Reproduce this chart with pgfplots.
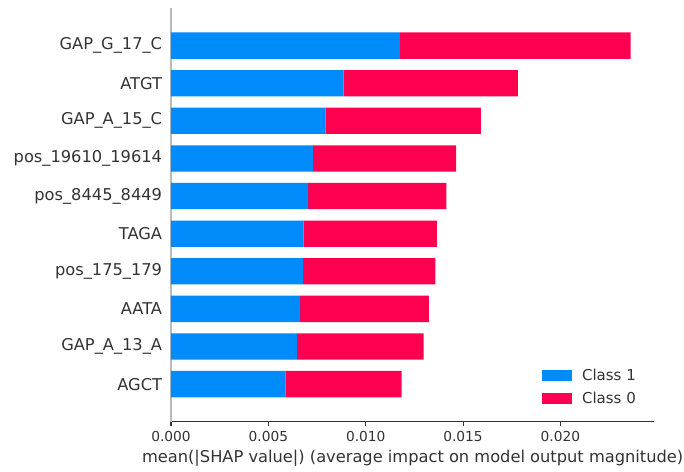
\documentclass[border=0pt]{standalone}
\usepackage{pgfplots}
\pgfplotsset{compat=1.18}
\usepackage{fontspec}
\setmainfont{DejaVu Sans}
\definecolor{shapblue}{RGB}{0,139,251}
\definecolor{shapred}{RGB}{255,0,81}
\definecolor{c333}{HTML}{333333}
\definecolor{c999}{HTML}{BBBBBB}
\begin{document}
\begin{tikzpicture}
\begin{axis}[
  name=ax,
  scale only axis,
  width=348pt, height=297.9pt,
  xbar stacked,
  bar width=0.7,
  xmin=0, xmax=0.02482,
  ymin=-1, ymax=10,
  separate axis lines,
  axis x line*=bottom,
  axis y line*=left,
  x axis line style={-, color=c333, line width=0.8pt},
  y axis line style={-, color=c999, line width=0.8pt},
  tick align=outside,
  xtick={0,0.005,0.010,0.015,0.020},
  scaled x ticks=false,
  /pgf/number format/fixed,
  /pgf/number format/fixed zerofill,
  /pgf/number format/precision=3,
  /pgf/number format/assume math mode=true,
  xticklabel style={font=\fontsize{9.9pt}{12pt}\selectfont, text=c333},
  x tick style={color=c333, line width=0.8pt},
  major tick length=3.2pt,
  ytick={0,1,2,3,4,5,6,7,8,9},
  yticklabels={AGCT,GAP\_A\_13\_A,AATA,pos\_175\_179,TAGA,pos\_8445\_8449,pos\_19610\_19614,GAP\_A\_15\_C,ATGT,GAP\_G\_17\_C},
  y tick style={draw=none},
  yticklabel style={font=\fontsize{11.7pt}{14pt}\selectfont, text=c333, inner sep=0pt, xshift=-3pt},
  xlabel={mean(|SHAP value|) (average impact on model output magnitude)},
  xlabel style={font=\fontsize{11.7pt}{14pt}\selectfont, text=c333, yshift=1pt},
  legend style={draw=none, fill=none, at={(0.758,0.142)}, anchor=north west,
    font=\fontsize{10.8pt}{13pt}\selectfont, text=c333, row sep=3pt},
  legend cell align=left,
  legend image code/.code={\fill[#1] (0pt,-3.8pt) rectangle (22pt,3.8pt); \path (27pt,0pt);},
]
\addplot[fill=shapblue, draw=none] coordinates {
(0.01176,9) (0.00887,8) (0.00794,7) (0.00729,6) (0.00705,5)
(0.00681,4) (0.00678,3) (0.00663,2) (0.00647,1) (0.00589,0)};
\addlegendentry{Class 1}
\addplot[fill=shapred, draw=none] coordinates {
(0.01185,9) (0.00895,8) (0.00798,7) (0.00736,6) (0.00709,5)
(0.00685,4) (0.00680,3) (0.00662,2) (0.00651,1) (0.00596,0)};
\addlegendentry{Class 0}
\end{axis}
\pgfresetboundingbox
\path ([shift={(-123.1pt,-35.5pt)}]ax.south west) rectangle ([shift={(21.4pt,5.76pt)}]ax.north east);
\end{tikzpicture}
\end{document}
